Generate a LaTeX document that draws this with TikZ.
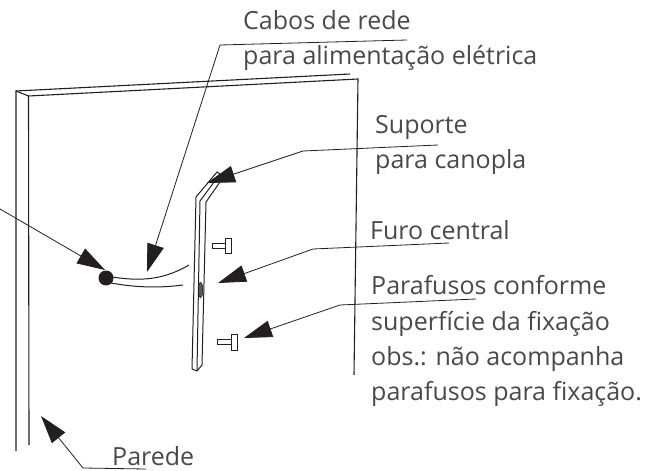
\documentclass[tikz,border=0pt]{standalone}
\usepackage{fontspec}
\setmainfont{Open Sans}
\usetikzlibrary{arrows.meta}
\definecolor{ink}{HTML}{231F20}
\definecolor{txt}{HTML}{4A4849}
\tikzset{
  lbl/.style={anchor=base west,inner sep=0pt,text=txt,font=\fontsize{25}{29}\selectfont},
  wall/.style={draw=ink,line width=1.1pt},
  part/.style={draw=ink,line width=1pt,line join=miter},
  lead/.style={draw=ink,line width=0.8pt},
  tip/.style={-{Triangle[length=28pt,width=17pt]}},
  pt/.style={coordinate}
}
\begin{document}
\begin{tikzpicture}[x=1pt,y=-1pt]
\useasboundingbox (0,0) rectangle (649,471);
% labels
\node[lbl] (cabos) at (243,29) {Cabos de rede};
\node[lbl] (para) at (243,64) {para alimentação elétrica};
\node[lbl] (sup) at (375,133) {Suporte};
\node[lbl] (can) at (375,168) {para canopla};
\node[lbl] (furo) at (370,239) {Furo central};
\node[lbl] (par1) at (371,294) {Parafusos conforme};
\node[lbl] (par2) at (371,330) {superfície da fixação};
\node[lbl] (par3) at (371,365) {obs.: não acompanha};
\node[lbl] (par4) at (371,400) {parafusos para fixação.};
\node[lbl] (par) at (112,465) {Parede};
% wall
\draw[wall] (16,451) -- (16,91) -- (350,74);
\draw[wall] (16,91) -- (28.5,96);
\draw[wall] (29,445) -- (28.5,96) -- (358,79) -- (354,375);
% bracket
\draw[part] (192,369) -- (196,197) -- (217,172) -- (220,174) -- (200,201) -- (197,371);
\draw[part] (192,369) -- (197,371) -- (202,365) -- (206,202) -- (220,182);
\draw[fill=gray!70!black,draw=ink,line width=0.6pt] (200.6,290) ellipse (2.2pt and 7.5pt);
% screws
\draw[part,fill=white] (212,243) rectangle (225,248);
\draw[part,fill=white] (225,238) rectangle (231,253);
\draw[part,fill=white] (217,339) rectangle (231,344);
\draw[part,fill=white] (231,334) rectangle (237,350);
% cable
\draw[part] (106,276) .. controls (135,281) and (160,282) .. (189,265);
\draw[part] (106,282) .. controls (135,288) and (160,288) .. (183,285);
\node[circle,fill=ink,minimum size=15pt,inner sep=0pt] (ball) at (106,278) {};
% leaders
\coordinate (cabE) at (407,40);
\coordinate (cabK) at (220,45);
\coordinate (cabT) at (147,272);
\draw[lead,tip] (cabE) -- (cabK) -- (cabT);
\coordinate (supE) at (438,145);
\coordinate (supK) at (303,151);
\coordinate (supT) at (207,183);
\draw[lead,tip] (supE) -- (supK) -- (supT);
\coordinate (furE) at (449,243);
\coordinate (furK) at (313,249);
\coordinate (furT) at (218,283);
\draw[lead,tip] (furE) -- (furK) -- (furT);
\coordinate (parE) at (476,299);
\coordinate (parK) at (340,305);
\coordinate (parT) at (244,338);
\draw[lead,tip] (parE) -- (parK) -- (parT);
\coordinate (pdE) at (146,469);
\coordinate (pdK) at (83,468);
\coordinate (pdT) at (41,416);
\draw[lead,tip] (pdE) -- (pdK) -- (pdT);
\coordinate (lfS) at (0,209);
\coordinate (lfT) at (105,270);
\draw[lead,tip] (lfS) -- (lfT);
\end{tikzpicture}
\end{document}
